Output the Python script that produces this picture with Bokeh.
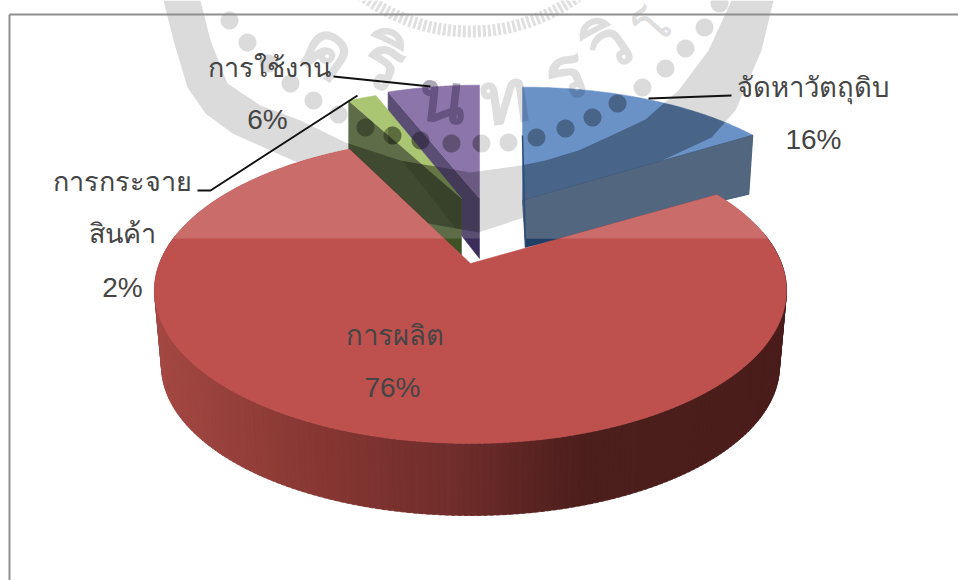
import math
from bokeh.core.properties import value
from bokeh.embed import file_html
from bokeh.models import Range1d
from bokeh.plotting import figure
from bokeh.resources import INLINE

# Share of each stage in the product life cycle, clockwise from twelve o'clock
stages = ["จัดหาวัตถุดิบ", "การผลิต", "การกระจาย สินค้า", "การใช้งาน"]
shares = [16, 76, 2, 6]
percent_labels = ["16%", "76%", "2%", "6%"]

# University seal printed across the top of the page
seal_inner = [(200, 0), (210, 40), (227, 83), (260, 105), (300, 120), (345, 142), (400, 160),
              (470, 172), (521, 165), (545, 160), (578, 150), (611, 135), (645, 119), (678, 90), (708, 50), (731, 0)]
seal_outer = [(773, 0), (761, 50), (735, 110), (711, 137), (640, 170), (560, 205), (478, 232),
              (400, 218), (320, 172), (270, 150), (232, 133), (205, 113), (187, 87), (173, 40), (163, 0)]
seal_dots = [(229, 20), (247, 42), (268, 63), (290, 83), (313, 100), (338, 114), (365, 127), (392, 135),
             (420, 140), (451, 143), (481, 143), (508, 142), (536, 137), (565, 128), (592, 117), (617, 103),
             (642, 87), (665, 68), (685, 48), (704, 27), (719, 3)]
seal_letters = [("ค", 329, 50, 74), ("ริ", 383, 63, 74), ("น", 442, 97, 70), ("ท", 504, 97, 74),
                ("ร", 565, 73, 74), ("วิ", 608, 46, 70), ("โ", 654, 27, 44)]

W, H = 958, 580
p = figure(width=W, height=H, output_backend="svg", toolbar_location=None,
           x_range=Range1d(0, W), y_range=Range1d(H, 0), min_border=0,
           x_axis_type=None, y_axis_type=None, outline_line_color=None)
p.grid.visible = False
p.background_fill_color = "white"
p.border_fill_color = "white"

# Perspective projection of a unit disc seen from above
K, A, B = 0.1765, 311.0, 148.2
BAND_Y = 238


def project(theta_deg, ax, ay, sx=1.0, sy=1.0):
    t = math.radians(theta_deg)
    u, v = math.sin(t), -math.cos(t)
    w = 1 - K * v
    return ax + sx * A * u / w, ay + sy * B * v / w


def rim(a0, a1, ax, ay, sx=1.0, sy=1.0, n=80):
    return [project(a0 + (a1 - a0) * i / n, ax, ay, sx, sy) for i in range(n + 1)]


def clip_poly(subject, clip):
    """Sutherland-Hodgman clipping against a convex polygon."""
    area = sum(clip[i][0] * clip[(i + 1) % len(clip)][1] - clip[(i + 1) % len(clip)][0] * clip[i][1]
               for i in range(len(clip)))
    sign = 1 if area > 0 else -1
    out = list(subject)
    for i in range(len(clip)):
        a, b = clip[i], clip[(i + 1) % len(clip)]
        side = lambda q: sign * ((b[0] - a[0]) * (q[1] - a[1]) - (b[1] - a[1]) * (q[0] - a[0]))
        src, out = out, []
        for j in range(len(src)):
            c, d = src[j], src[(j + 1) % len(src)]
            sc, sd = side(c), side(d)
            if sc >= 0:
                out.append(c)
            if sc * sd < 0:
                f = sc / (sc - sd)
                out.append((c[0] + (d[0] - c[0]) * f, c[1] + (d[1] - c[1]) * f))
        if not out:
            return []
    return out


def fill(poly, color, alpha=1.0, stroke=True):
    if not poly:
        return
    xs, ys = [q[0] for q in poly], [q[1] for q in poly]
    p.patch(xs, ys, fill_color=color, fill_alpha=alpha,
            line_color=color if stroke else None, line_width=0.5)


def wedge_angles():
    out, c = [], 0.0
    for s in shares:
        out.append((c, c + s * 3.6))
        c += s * 3.6
    return out


def mix(stops, x):
    if x <= stops[0][0]:
        return stops[0][1]
    for (x0, c0), (x1, c1) in zip(stops, stops[1:]):
        if x <= x1:
            f = (x - x0) / (x1 - x0)
            return tuple(c0[i] + (c1[i] - c0[i]) * f for i in range(3))
    return stops[-1][1]


def hex_of(c):
    return "#%02x%02x%02x" % tuple(int(round(v)) for v in c)


angles = wedge_angles()
upper = [(0, 0), (W, 0), (W, BAND_Y), (0, BAND_Y)]

# Purple slice
a0, a1 = angles[3]
ax, ay = 479, 198
top_purple = [(ax, ay)] + rim(a0, a1, ax, ay, 0.93, 0.90)
ox, oy = top_purple[1]
side_purple = [(ax, ay), (ox, oy), (ox, oy + 50), (ax, ay + 60)]
fill(side_purple, "#3b2d5a")
fill(top_purple, "#775b98")

# Green slice
a0, a1 = angles[2]
ax, ay = 461, 198
top_green = [(ax, ay)] + rim(a0, a1, ax, ay, 0.87, 0.87)
ox, oy = top_green[1]
side_green = [(ax, ay), (ox, oy), (ox, oy + 48), (ax, ay + 57)]
fill(side_green, "#405225")
fill(top_green, "#9bbb59")

# Blue slice, upper face
a0, a1 = angles[0]
ax, ay = 522, 200
top_blue = [(ax, ay)] + rim(a0, a1, ax, ay, 0.96, 0.90)
ex, ey = top_blue[-1]
fill(top_blue, "#4f7ebd")

# Pale upper band
p.quad(left=[0], right=[W], top=[0], bottom=[BAND_Y], fill_color="white", fill_alpha=0.16, line_color=None)

# Seal: crescent, dotted ring, lettering and the small text ring
crescent = seal_inner + seal_outer
fill(crescent, "black", 0.14, stroke=False)
dot_polys = []
for dx, dy in seal_dots:
    poly = [(dx + 9 * math.cos(i * math.pi / 12), dy + 9 * math.sin(i * math.pi / 12)) for i in range(24)]
    dot_polys.append(poly)
    fill(poly, "black", 0.14, stroke=False)

ring = [(470 + 181 * math.sin(math.radians(a)), -150 + 181 * math.cos(math.radians(a))) for a in range(-42, 43, 2)]
p.line([q[0] for q in ring], [q[1] for q in ring], line_color="black", line_alpha=0.12, line_width=12, line_dash="3 2")

for ch, lx, ly, size in seal_letters:
    ang = math.asin((lx - 470) / 247)
    p.text([lx], [ly], text=[ch], angle=[ang], text_align="center", text_baseline="middle",
           text_color="black", text_alpha=0.13, text_font_size=f"{size}px", text_font_style="bold",
           text_font=value("Liberation Sans"))

# The seal prints darker where it crosses a coloured face
for face, extra in ((top_blue, 0.2), (top_purple, 0.1), (top_green, 0.2), (side_green, 0.2), (side_purple, 0.12)):
    fill(clip_poly(crescent, face), "black", extra, stroke=False)
    for poly in dot_polys:
        fill(clip_poly(poly, face), "black", 0.2, stroke=False)
p.text([442], [97], text=[seal_letters[2][0]], angle=[math.asin(-28 / 247)], text_align="center",
       text_baseline="middle", text_color="#3c2a5e", text_alpha=0.3, text_font_size="70px",
       text_font_style="bold", text_font=value("Liberation Sans"))

# Blue slice, front wall
side_blue = [(ax, ay), (ex, ey), (ex - 4, ey + 59), (ax + 3, ay + 47)]
fill(side_blue, "#1f3f66")
fill(clip_poly(side_blue, upper), "#52667f")
p.line([ax, ax + 3], [135, ay + 47], line_color="#2c4c76", line_width=1.5)

# Red slice: curved wall as narrow strips, shaded from left to right
a0, a1 = angles[1]
ROT = 2.0
ax, ay = 470, 263
wall_stops = [(160, (164, 72, 67)), (306, (137, 56, 51)), (459, (111, 45, 43)),
              (585, (76, 30, 28)), (800, (74, 29, 27))]
t = 282.0
while t > 78.0:
    t1 = t - 1.6
    x0, y0 = project(t, ax, ay)
    x1, y1 = project(t1, ax, ay)
    x2, y2 = project(t1, ax, ay, 0.978, 0.978)
    x3, y3 = project(t, ax, ay, 0.978, 0.978)
    c = hex_of(mix(wall_stops, (x0 + x1 + x2 + x3) / 4))
    p.patch([x0, x1, x2, x3], [y0, y1, y2 + 76, y3 + 76], fill_color=c, line_color=c, line_width=0.6)
    t -= 1.0
top_red = [(ax, ay)] + rim(a0 + ROT, a1 + ROT, ax, ay, n=240)
fill(top_red, "#be504e")
fill(clip_poly(top_red, upper), "#c96c6a", stroke=False)

# Frame
p.line([9, 9], [14, H], line_color="#8f8f8f", line_width=2)
p.line([9, W], [14, 14], line_color="#8f8f8f", line_width=2)

# Leader lines
for lx, ly in [([333, 430], [76, 86]), ([197, 210, 357], [190, 190, 95]), ([648, 731], [98, 95])]:
    p.line(lx, ly, line_color="#111111", line_width=2)

# Data labels
label_font = value("Liberation Sans")
labels = [
    ("การใช้งาน", 269, 67, "27px"), (percent_labels[3], 267, 119, "28px"),
    ("การกระจาย", 122, 181, "27px"), ("สินค้า", 122, 233, "27px"), (percent_labels[2], 122, 287, "28px"),
    ("จัดหาวัตถุดิบ", 812, 87, "27.5px"), (percent_labels[0], 813, 139, "28px"),
    ("การผลิต", 394, 335, "27.5px"), (percent_labels[1], 392, 387, "28px"),
]
for txt, lx, ly, fs in labels:
    p.text([lx], [ly], text=[txt], text_align="center", text_baseline="middle",
           text_color="#454545", text_font_size=fs, text_font=label_font)

open("out.html", "w").write(file_html(p, INLINE))
